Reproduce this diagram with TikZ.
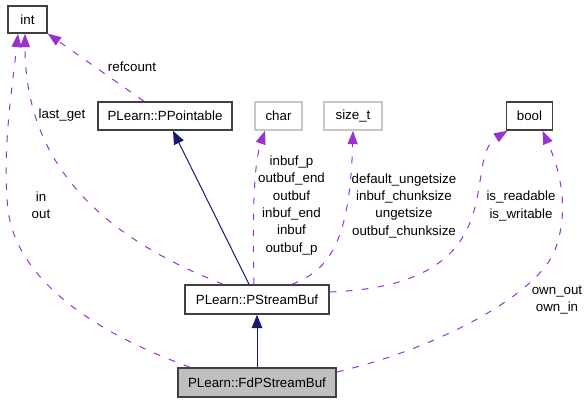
\documentclass[tikz,border=0pt]{standalone}
\usepackage{fontspec}
\setmainfont{Liberation Sans}
\usetikzlibrary{arrows.meta}
\newdimen\px \px=0.75pt
\definecolor{edgepurple}{HTML}{9A32CD}
\definecolor{edgenavy}{HTML}{191970}
\definecolor{boxborder}{HTML}{404040}
\definecolor{boxgray}{HTML}{BFBFBF}
\definecolor{typeborder}{HTML}{C8C8C8}
\begin{document}
\begin{tikzpicture}[x=0.75pt, y=-0.75pt, font=\fontsize{10}{13}\selectfont]
    \tikzstyle{class_box}=[draw=boxborder, line width=1.2pt, fill=white, inner sep=0pt, minimum height=28\px]
    \tikzstyle{type_box}=[class_box, draw=typeborder]
    \tikzstyle{member_edge}=[edgepurple, line width=0.75pt, dash pattern=on 5pt off 7pt, -{Triangle[length=10pt,width=7.5pt]}]
    \tikzstyle{inherit_edge}=[edgenavy, line width=0.75pt, -{Triangle[length=10pt,width=8pt]}]
    \tikzstyle{member_label}=[align=center, inner sep=0pt]

    \useasboundingbox (0,0) rectangle (588,403);

    % --- types ---
    \node[class_box, minimum width=39\px, minimum height=27\px] (int) at (27.5,19.5) {int};
    \node[type_box, minimum width=47\px] (char) at (278.5,116) {char};
    \node[type_box, minimum width=58\px] (sizet) at (353,116) {size\_t};
    \node[class_box, minimum width=46\px] (bool) at (529.5,116) {bool};

    % --- classes ---
    \node[class_box, minimum width=134\px] (ppointable) at (165,116) {PLearn::PPointable};
    \node[class_box, minimum width=144\px, minimum height=29\px] (pstreambuf) at (257,299.5) {PLearn::PStreamBuf};
    \node[class_box, fill=boxgray, minimum width=158\px, minimum height=29\px] (fdpstreambuf) at (257,382.5) {PLearn::FdPStreamBuf};

    % --- inheritance ---
    \draw[inherit_edge] ([xshift=-8\px]pstreambuf.north) -- ([xshift=8\px]ppointable.south);
    \draw[inherit_edge] (fdpstreambuf) -- (pstreambuf);

    % --- members of int ---
    \draw[member_edge] (ppointable) -- (int);
    \node[member_label] (lbl_refcount) at (132,67) {refcount};
    \draw[member_edge] ([xshift=-34\px]pstreambuf.north) .. controls (110,240) and (25,170) .. ([xshift=-2.5\px]int.south);
    \node[member_label] (lbl_lastget) at (62,115) {last\_get};
    \draw[member_edge] ([xshift=-67\px]fdpstreambuf.north) .. controls (60,320) and (14,260) .. (8,210)
      .. controls (2,150) and (12,90) .. ([xshift=-9.5\px]int.south);
    \node[member_label] (lbl_inout) at (41,205.5) {in\\out};

    % --- members of char and size_t ---
    \draw[member_edge] ([xshift=-3\px]pstreambuf.north) .. controls (252,200) and (255,160) .. ([xshift=-13.5\px]char.south);
    \node[member_label] (lbl_char) at (291.5,205.4) {inbuf\_p\\outbuf\_end\\outbuf\\inbuf\_end\\inbuf\\outbuf\_p};
    \draw[member_edge] ([xshift=35\px]pstreambuf.north) .. controls (330,270) and (350,240) .. (sizet.south);
    \node[member_label] (lbl_sizet) at (404,205.5) {default\_ungetsize\\inbuf\_chunksize\\ungetsize\\outbuf\_chunksize};

    % --- members of bool ---
    \draw[member_edge] ([yshift=7.5\px]pstreambuf.east) .. controls (520,285) and (460,160) .. ([xshift=-22\px]bool.south);
    \node[member_label] (lbl_rw) at (521,206) {is\_readable\\is\_writable};
    \draw[member_edge] ([yshift=10.5\px]fdpstreambuf.east) .. controls (450,345) and (540,290) .. (555,250)
      .. controls (570,210) and (560,170) .. ([xshift=13\px]bool.south);
    \node[member_label] (lbl_own) at (557,300) {own\_out\\own\_in};
\end{tikzpicture}
\end{document}
